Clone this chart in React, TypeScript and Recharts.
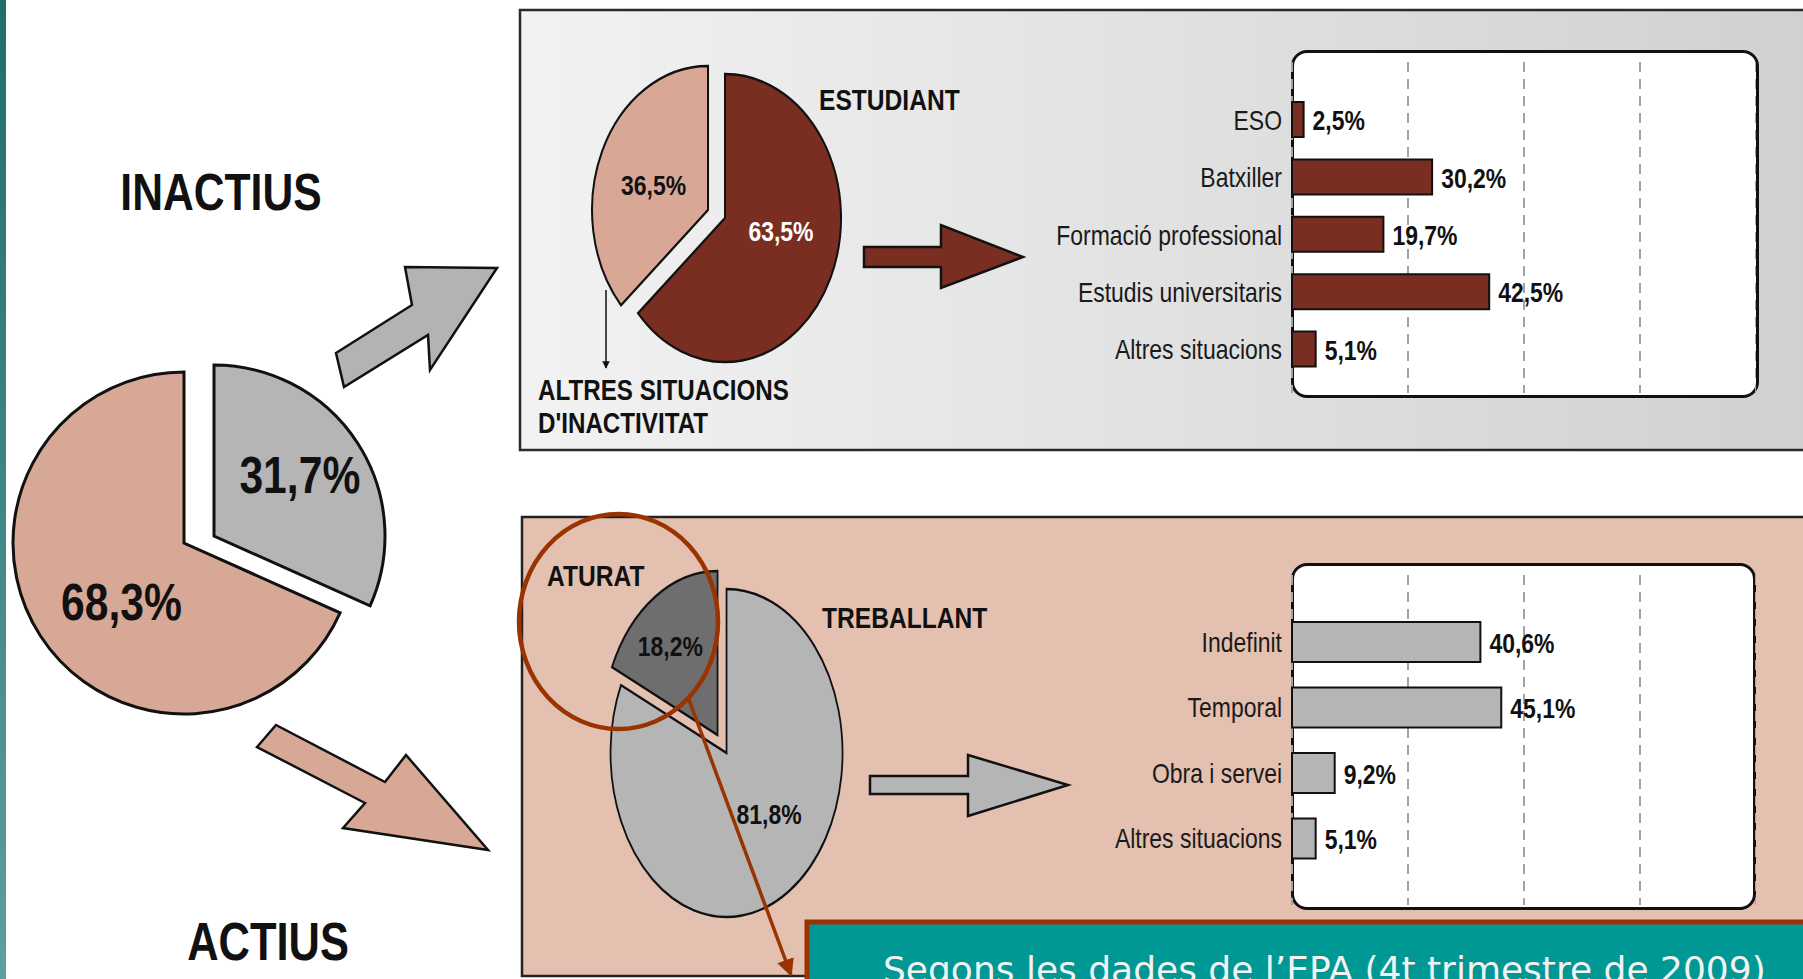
import React from 'react';
import { PieChart, Pie, Cell, BarChart, Bar, XAxis, YAxis, CartesianGrid, LabelList } from 'recharts';

// population split and its two breakdowns (EPA, 4t trimestre 2009)
const MAIN_NAMES = ['Inactius', 'Actius'];
const MAIN_VALUES = [31.7, 68.3];

const INACTIVE_NAMES = ['Estudiant', "Altres situacions d'inactivitat"];
const INACTIVE_VALUES = [63.5, 36.5];

const ACTIVE_NAMES = ['Treballant', 'Aturat'];
const ACTIVE_VALUES = [81.8, 18.2];

const STUDY_CATEGORIES = ['ESO', 'Batxiller', 'Formació professional', 'Estudis universitaris', 'Altres situacions'];
const STUDY_VALUES = [2.5, 30.2, 19.7, 42.5, 5.1];

const CONTRACT_CATEGORIES = ['Indefinit', 'Temporal', 'Obra i servei', 'Altres situacions'];
const CONTRACT_VALUES = [40.6, 45.1, 9.2, 5.1];

const GRID_TICKS = [25, 50, 75];

// no condensed face installed: squeeze Liberation Sans to an Arial Narrow width
const SANS = '"Liberation Sans", Arial, sans-serif';
const SQUEEZE = 0.82;
const RUST = '#993300';
const INK = '#111111';

const fmt = (v: number) => `${v.toFixed(1).replace('.', ',')}%`;

type NTextProps = {
  x: number;
  y: number;
  size: number;
  bold?: boolean;
  fill?: string;
  anchor?: 'start' | 'middle' | 'end';
  dy?: string;
  sx?: number;
  children: React.ReactNode;
};

function NText({ x, y, size, bold, fill = INK, anchor = 'start', dy, sx = 1, children }: NTextProps) {
  return (
    <text
      x={0}
      y={0}
      dy={dy}
      transform={`translate(${x},${y}) scale(${SQUEEZE * sx},1)`}
      textAnchor={anchor}
      fontFamily={SANS}
      fontWeight={bold ? 'bold' : 'normal'}
      fontSize={size}
      fill={fill}
    >
      {children}
    </text>
  );
}

type PieProps = {
  names: string[];
  values: number[];
  colors: string[];
  centers: [number, number][];
  rx: number;
  ry: number;
  box: [number, number, number, number];
  labelR: number[];
  labelShift: number[];
  labelColors: string[];
  fontSize: number;
  strokeWidth: number;
};

// exploded pie; squashed horizontally with a css scale so it reads as an ellipse
function ExplodedPie(p: PieProps) {
  const sx = p.rx / p.ry;
  const [bx, by, bw, bh] = p.box;
  const w = bw / sx;
  const data = p.names.map((name, i) => ({ name, value: p.values[i] }));
  return (
    <div style={{ position: 'absolute', left: bx, top: by, width: w, height: bh, transform: `scaleX(${sx})`, transformOrigin: '0 0' }}>
      <PieChart width={w} height={bh}>
        {p.centers.map(([cx, cy], k) => (
          <Pie
            key={k}
            data={data}
            dataKey="value"
            nameKey="name"
            cx={(cx - bx) / sx}
            cy={cy - by}
            outerRadius={p.ry}
            startAngle={90}
            endAngle={-270}
            isAnimationActive={false}
            labelLine={false}
            label={(l: any) => {
              if (l.index !== k) return <g />;
              const a = (-(l.midAngle + p.labelShift[k]) * Math.PI) / 180;
              const r = l.outerRadius * p.labelR[k];
              return (
                <NText
                  x={l.cx + r * Math.cos(a)}
                  y={l.cy + r * Math.sin(a)}
                  dy="0.36em"
                  anchor="middle"
                  size={p.fontSize}
                  bold
                  sx={1 / sx}
                  fill={p.labelColors[k]}
                >
                  {fmt(l.value)}
                </NText>
              );
            }}
          >
            {data.map((d, i) => (
              <Cell
                key={d.name}
                fill={i === k ? p.colors[i] : 'none'}
                stroke={i === k ? INK : 'none'}
                strokeWidth={p.strokeWidth}
              />
            ))}
          </Pie>
        ))}
      </PieChart>
    </div>
  );
}

type BarsProps = {
  categories: string[];
  values: number[];
  fill: string;
  left: number;
  top: number;
  width: number;
  height: number;
  padTop: number;
  padBottom: number;
  barSize: number;
};

const Y_W = 292;

function Bars(p: BarsProps) {
  const data = p.categories.map((name, i) => ({ name, value: p.values[i] }));
  return (
    <div style={{ position: 'absolute', left: p.left, top: p.top }}>
      <BarChart layout="vertical" width={p.width} height={p.height} data={data} margin={{ top: 0, right: 0, bottom: 0, left: 0 }}>
        <CartesianGrid horizontal={false} strokeDasharray="10 7" stroke="#a3a3a3" strokeWidth={2} />
        <XAxis type="number" domain={[0, 100]} ticks={GRID_TICKS} hide />
        <YAxis
          type="category"
          dataKey="name"
          width={Y_W}
          axisLine={false}
          tickLine={false}
          interval={0}
          padding={{ top: p.padTop, bottom: p.padBottom }}
          tick={(t: any) => (
            <NText x={t.x - 2} y={t.y} dy="0.36em" anchor="end" size={28} fill="#1a1a1a">
              {t.payload.value}
            </NText>
          )}
        />
        <Bar dataKey="value" fill={p.fill} stroke={INK} strokeWidth={2} barSize={p.barSize} isAnimationActive={false}>
          <LabelList
            dataKey="value"
            content={(l: any) => (
              <NText x={l.x + l.width + 9} y={l.y + l.height / 2} dy="0.38em" size={28} bold>
                {fmt(Number(l.value))}
              </NText>
            )}
          />
        </Bar>
      </BarChart>
    </div>
  );
}

export default function App() {
  return (
    <div style={{ position: 'absolute', left: 0, top: 0, width: 1803, height: 979, overflow: 'hidden', background: '#fff' }}>
      <svg width={1803} height={979} style={{ position: 'absolute', left: 0, top: 0 }}>
        <defs>
          <linearGradient id="strip" x1="0" y1="0" x2="0" y2="1">
            <stop offset="0" stopColor="#226c6e" />
            <stop offset="1" stopColor="#5e9f9f" />
          </linearGradient>
          <linearGradient id="upper" x1="0" y1="0" x2="1" y2="0">
            <stop offset="0" stopColor="#f2f2f2" />
            <stop offset="1" stopColor="#d0d0d0" />
          </linearGradient>
        </defs>
        <rect x={0} y={0} width={6} height={979} fill="url(#strip)" />
        <rect x={520} y={10} width={1320} height={440} fill="url(#upper)" stroke="#2a2a2a" strokeWidth={2.5} />
        <rect x={522} y={517} width={1320} height={459} fill="#e4c0b0" stroke="#222" strokeWidth={2.5} />
        <polygon points="336,353 412,305 405,267 497,268 430,370 428,335 344,387" fill="#b3b3b3" stroke={INK} strokeWidth={2.5} />
        <polygon points="276,725 385,782 406,755 488,850 343,828 365,803 257,747" fill="#d8a896" stroke={INK} strokeWidth={2.5} />
        <polygon points="864,247 941,247 941,225 1023,257 941,288 941,267 864,267" fill="#7a2e22" stroke={INK} strokeWidth={2.5} />
        <polygon points="870,776 968,776 968,755 1068,785 968,816 968,794 870,794" fill="#b6b5b6" stroke={INK} strokeWidth={2.5} />
      </svg>

      <div style={{ position: 'absolute', left: 1291, top: 50, width: 468, height: 348, border: `3px solid ${INK}`, borderRadius: 16, background: '#fff', boxSizing: 'border-box' }} />
      <div style={{ position: 'absolute', left: 1291, top: 563, width: 465, height: 347, border: `3px solid ${INK}`, borderRadius: 16, background: '#fff', boxSizing: 'border-box' }} />

      <Bars categories={STUDY_CATEGORIES} values={STUDY_VALUES} fill="#7a2e22" left={1292 - Y_W} top={62} width={Y_W + 464} height={331} padTop={29} padBottom={15} barSize={35} />
      <Bars categories={CONTRACT_CATEGORIES} values={CONTRACT_VALUES} fill="#b6b5b6" left={1292 - Y_W} top={575} width={Y_W + 464} height={330} padTop={34} padBottom={34} barSize={40} />

      <ExplodedPie
        names={MAIN_NAMES}
        values={MAIN_VALUES}
        colors={['#b6b5b6', '#d8a896']}
        centers={[[209, 531], [179, 538]]}
        rx={171}
        ry={171}
        box={[0, 340, 420, 400]}
        labelR={[0.62, 0.5]}
        labelShift={[3, 10]}
        labelColors={[INK, INK]}
        fontSize={52}
        strokeWidth={3}
      />
      <ExplodedPie
        names={INACTIVE_NAMES}
        values={INACTIVE_VALUES}
        colors={['#7a2e22', '#d9a796']}
        centers={[[721, 213], [704, 205]]}
        rx={116}
        ry={144}
        box={[560, 40, 320, 340]}
        labelR={[0.49, 0.5]}
        labelShift={[14, 4]}
        labelColors={['#ffffff', INK]}
        fontSize={28}
        strokeWidth={2.5}
      />
      <ExplodedPie
        names={ACTIVE_NAMES}
        values={ACTIVE_VALUES}
        colors={['#b6b5b6', '#6f6e6f']}
        centers={[[723, 748], [714, 730]]}
        rx={116}
        ry={164}
        box={[560, 540, 320, 420]}
        labelR={[0.52, 0.68]}
        labelShift={[12, 4]}
        labelColors={[INK, INK]}
        fontSize={28}
        strokeWidth={2.5}
      />

      <svg width={1803} height={979} style={{ position: 'absolute', left: 0, top: 0, pointerEvents: 'none' }}>
        <defs>
          <marker id="headBlack" viewBox="0 0 10 10" refX="9" refY="5" markerWidth="5" markerHeight="7" orient="auto">
            <path d="M0,0 L10,5 L0,10 z" fill={INK} />
          </marker>
          <marker id="headRust" viewBox="0 0 10 10" refX="9" refY="5" markerWidth="5" markerHeight="5" orient="auto">
            <path d="M0,0 L10,5 L0,10 z" fill={RUST} />
          </marker>
        </defs>
        <NText x={221} y={210} anchor="middle" size={52} bold>INACTIUS</NText>
        <NText x={268} y={960} anchor="middle" size={53} bold>ACTIUS</NText>
        <NText x={819} y={110} size={30} bold>ESTUDIANT</NText>
        <NText x={538} y={400} size={29.5} bold>ALTRES SITUACIONS</NText>
        <NText x={538} y={433} size={29.5} bold>D'INACTIVITAT</NText>
        <NText x={547} y={586} size={30} bold>ATURAT</NText>
        <NText x={822} y={628} size={30} bold>TREBALLANT</NText>
        <line x1={606} y1={290} x2={606} y2={368} stroke={INK} strokeWidth={1.5} markerEnd="url(#headBlack)" />
        <ellipse cx={618.5} cy={621.5} rx={99.5} ry={107.5} fill="none" stroke={RUST} strokeWidth={4.5} />
        <line x1={688} y1={697} x2={791} y2={975} stroke={RUST} strokeWidth={3.5} markerEnd="url(#headRust)" />
        <rect x={807} y={922} width={1020} height={80} fill="#009894" stroke={RUST} strokeWidth={5} />
        <text x={883} y={982} fontFamily='"DejaVu Sans", Verdana, sans-serif' fontSize={36} fill="#f2f2f2">
          Segons les dades de l’EPA (4t trimestre de 2009)
        </text>
      </svg>
    </div>
  );
}
